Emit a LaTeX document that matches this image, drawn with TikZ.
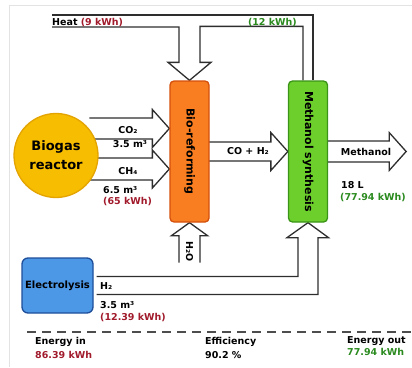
\documentclass[tikz,border=0pt]{standalone}
\usepackage{fontspec}
\setmainfont{DejaVu Sans}
\usetikzlibrary{calc}
\pgfdeclarelayer{back}
\pgfsetlayers{back,main}

\definecolor{reactoryellow}{HTML}{F7BD00}
\definecolor{reactoredge}{HTML}{E3A300}
\definecolor{reformorange}{HTML}{F97E22}
\definecolor{reformedge}{HTML}{D4500C}
\definecolor{synthgreen}{HTML}{6CCF2C}
\definecolor{synthedge}{HTML}{3A9417}
\definecolor{electroblue}{HTML}{4C97E6}
\definecolor{electroedge}{HTML}{1E4E9A}
\definecolor{kwhred}{HTML}{A11B2C}
\definecolor{kwhgreen}{HTML}{2A8A1E}
\definecolor{pipegray}{HTML}{2E2E2E}

\tikzset{
  unit/.style={rectangle,draw,line width=1.3pt,rounded corners=4pt,inner sep=0pt,
    minimum width=39pt,minimum height=141pt,font=\fontsize{11}{13}\selectfont\bfseries},
  pipe/.style={draw=pipegray,fill=white,line width=1.3pt},
  pipeline/.style={draw=pipegray,line width=1.3pt},
  lbl/.style={inner sep=0pt,font=\fontsize{9.5}{11}\selectfont\bfseries},
}

\newcommand{\fatarrow}[3]{%
  \path[pipe] (#1) ++(-#2,-#3) -- ++(#2-17,0) -- ++(0,#3-19) -- (#1)
    -- ++(-17,19) -- ++(0,#3-19) -- ++(17-#2,0);}

\begin{document}
\begin{tikzpicture}[x=1pt,y=-1pt]
\useasboundingbox (0,0) rectangle (412,367);
\draw[gray!22,line width=0.8pt] (9,367) -- (9,5) -- (412,5);

\node[circle,draw=reactoredge,fill=reactoryellow,line width=1.3pt,minimum size=84pt,align=center,
  font=\fontsize{13}{19}\selectfont\bfseries] (biogas) at (56,155.5) {Biogas\\reactor};
\node[unit,draw=reformedge,fill=reformorange] (bioref) at (189.5,151.5) {\rotatebox{-90}{Bio-reforming}};
\node[unit,draw=synthedge,fill=synthgreen] (methsyn) at (308,151.5) {\rotatebox{-90}{Methanol synthesis}};
\node[rectangle,draw=electroedge,fill=electroblue,line width=1.3pt,rounded corners=6pt,inner sep=0pt,
  minimum width=71pt,minimum height=55pt,font=\fontsize{10}{12}\selectfont\bfseries] (electro) at (57.5,285.5) {Electrolysis};

\coordinate (co2)   at ($(bioref.west)+(0,-23)$);
\coordinate (ch4)   at ($(bioref.west)+(0,17.5)$);
\coordinate (meoh)  at ($(methsyn.east)+(78,0)$);
\coordinate (heat)  at (52,21);
\coordinate (water) at ($(bioref.south)+(0,40)$);

\begin{pgfonlayer}{back}
\fatarrow{co2}{80}{10.5}
\fatarrow{ch4}{80}{11}
\fatarrow{methsyn.west}{80}{9.5}
\fatarrow{meoh}{78}{10.5}
\path[pipe] (water) ++(-10.5,0) -- ++(0,-27) -- ++(-7.5,0) -- (bioref.south)
  -- ++(18,13) -- ++(-7.5,0) -- ++(0,27);
\draw[pipeline] ($(heat)+(0,-6)$) -| ($(methsyn.north)+(5,0)$);
\draw[pipeline] ($(heat)+(0,6)$) -| ($(bioref.north)+(-10.5,-18)$) -- ++(-11,0) -- (bioref.north)
  -- ++(21.5,-18) -- ++(-11,0) |- ($(methsyn.north)+(-5,-54)$) -- ($(methsyn.north)+(-5,0)$);
\draw[pipeline] ($(electro.east)+(3,-9)$) -| ($(methsyn.south)+(-10,15)$) -- ++(-11,0) -- (methsyn.south)
  -- ++(20.5,15) -- ++(-10.5,0) |- ($(electro.east)+(3,9)$);
\end{pgfonlayer}

\node[lbl,anchor=base west] (heatlbl) at ($(heat)+(0,4)$) {Heat \textcolor{kwhred}{(9 kWh)}};
\node[lbl,anchor=base east,text=kwhgreen] (heatout) at (297,25) {(12 kWh)};
\node[lbl,anchor=base] (co2lbl) at (128,133) {CO₂};
\node[lbl,anchor=base] (co2vol) at (130,147) {3.5 m³};
\node[lbl,anchor=base] (ch4lbl) at (128,174) {CH₄};
\node[lbl,anchor=base west] (ch4vol) at (103,193) {6.5 m³};
\node[lbl,anchor=base west,text=kwhred] (ch4kwh) at (103,204) {(65 kWh)};
\node[lbl,anchor=base] (syngas) at (248,154) {CO + H₂};
\node[lbl,anchor=base] (meohlbl) at (366,155) {Methanol};
\node[lbl,anchor=base west] (meohvol) at (341,188) {18 L};
\node[lbl,anchor=base west,text=kwhgreen] (meohkwh) at (340,200) {(77.94 kWh)};
\node[lbl,rotate=-90] (waterlbl) at ($(water)+(0,-11)$) {H₂O};
\node[lbl,anchor=base west] (h2lbl) at (100,289) {H₂};
\node[lbl,anchor=base west] (h2vol) at (100,308) {3.5 m³};
\node[lbl,anchor=base west,text=kwhred] (h2kwh) at (100,320) {(12.39 kWh)};

\draw[pipegray!85,line width=1.4pt,dash pattern=on 9pt off 6pt] (27,332) -- (412,332);
\node[lbl,anchor=base west] (ein) at (35,344) {Energy in};
\node[lbl,anchor=base west,text=kwhred] (einval) at (35,358) {86.39 kWh};
\node[lbl,anchor=base west] (eff) at (205,344) {Efficiency};
\node[lbl,anchor=base west] (effval) at (205,358) {90.2 \%};
\node[lbl,anchor=base west] (eout) at (347,343) {Energy out};
\node[lbl,anchor=base west,text=kwhgreen] (eoutval) at (347,355) {77.94 kWh};
\end{tikzpicture}
\end{document}
